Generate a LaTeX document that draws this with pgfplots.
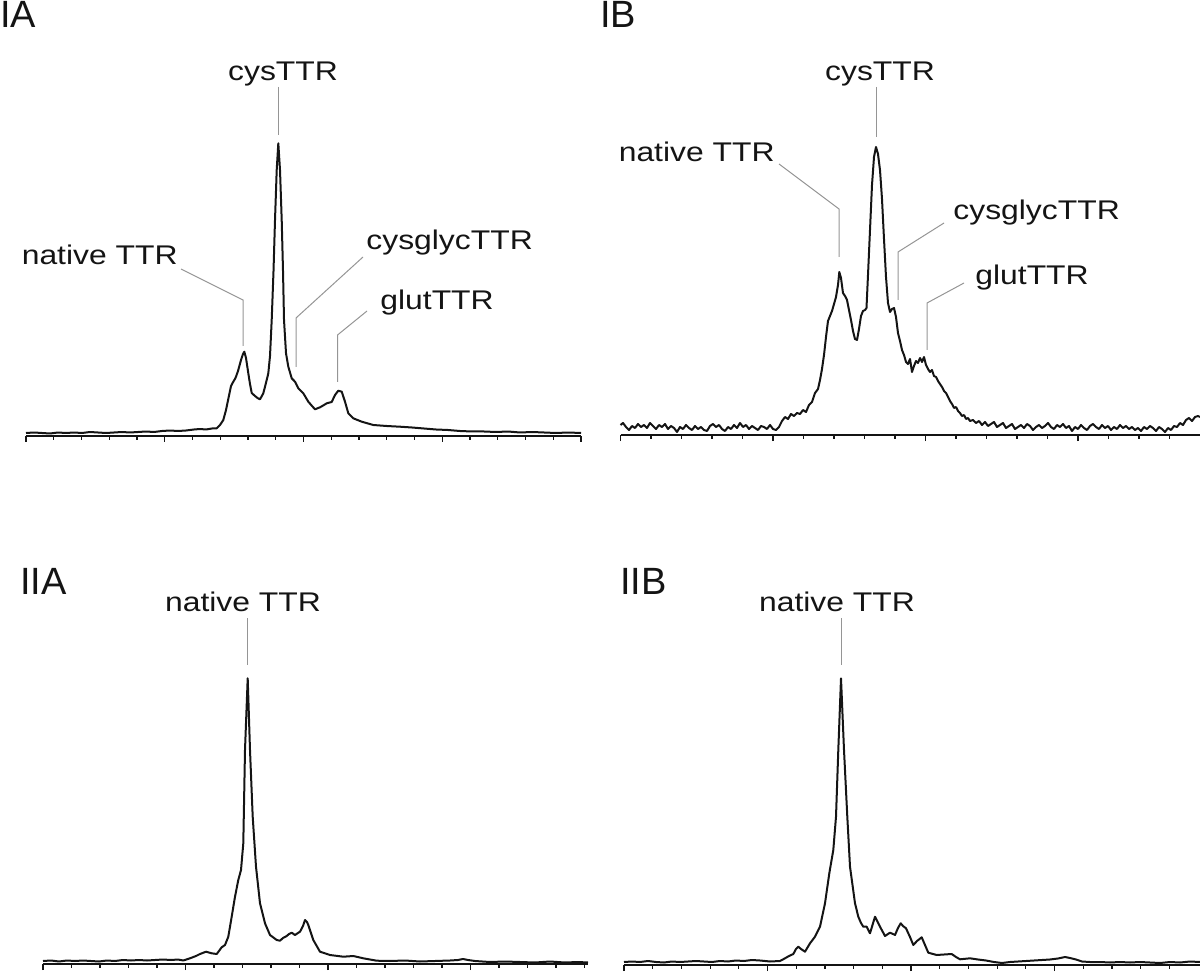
\documentclass[border=0pt]{standalone}
\usepackage{fontspec}
\setmainfont{Liberation Sans}[FakeStretch=1.18]
\newfontfamily\titlefont{Liberation Sans}
\usepackage{pgfplots}
\pgfplotsset{compat=1.18}
\definecolor{ink}{HTML}{141414}
\definecolor{leadgray}{HTML}{959595}
\pgfplotsset{
  panel/.style={
    scale only axis, anchor=south west, clip=false,
    axis x line*=bottom, axis y line=none,
    ymin=0,
    xticklabel=\empty,
    tick align=outside,
    major tick length=3pt, minor tick length=1.8pt,
    x axis line style={line width=0.9pt, draw=ink, -},
    every tick/.append style={line width=0.6pt, draw=ink},
  },
  curve/.style={ink, line width=1pt, line join=round, mark=none},
}
\tikzset{
  lbl/.style={font=\fontsize{13.5pt}{16pt}\selectfont, inner sep=0pt, text=ink},
  ttl/.style={font=\titlefont\fontsize{19pt}{22pt}\selectfont, inner sep=0pt, text=ink, anchor=base west},
  leader/.style={draw=leadgray, line width=0.5pt},
}
\begin{document}
\begin{tikzpicture}
\path[use as bounding box] (0,0) rectangle (600pt,485.5pt);

% ---------------- IA ----------------
\begin{axis}[panel, at={(13pt,267.5pt)}, width=277.5pt, height=218pt,
  xmin=26, xmax=581, ymax=436,
  xtick={26,164.75,303.5,442.25,581},
  minor xtick={53.75,81.5,109.25,137,192.5,220.25,248,275.75,331.25,359,386.75,414.5,470,497.75,525.5,553.25}]
\addplot[curve] table {
26 3
34 3.5
42 3
50 2.5
58 3.5
66 3
74 3.5
82 3
90 4
98 3.5
106 3
114 3.5
122 4
130 3.5
138 4
146 4.5
154 4
162 5
170 5.5
178 5
186 5.5
194 6.5
200 7
206 6.5
212 7.5
216.7 7.7
220 11
223.3 16
226 26
228.5 38
231 50
233.3 54.3
235.5 58
238 65
241 76
243 82
244.3 84.3
246 78
248.3 62.7
250 52
251.7 43
255 40
257.5 38
260 36.7
263.3 42.7
266.7 56
268.3 62.7
270 80
271.7 116
273.5 165
275 216
276.7 266
278.3 292.7
280 266
281.7 216
283 165
284 116
286 82.7
288.3 69.3
291.7 57.7
295 54.3
298.3 47.7
303.3 42.7
308.3 34.3
312 30
315 26.7
320 28.7
324 31
326.7 32.7
331.7 34
335 41
338.3 45.3
341.7 44.3
345 34.3
348.3 22.7
353.3 17.7
361.7 14.3
373.3 11
386.7 10
400 9.3
412 8.5
424 7.5
436 6.5
448 6
460 5
472 4.5
484 4.5
496 4
508 4.5
520 3.5
532 4
544 3.5
556 3
568 3.5
581 3
};
\node[ttl] at (axis cs:0,408.7) {IA};
\node[lbl, anchor=base] at (axis cs:283,355) {cysTTR};
\draw[leader] (axis cs:278,349) -- (axis cs:278,301);
\node[lbl, anchor=base east] at (axis cs:178,171) {native TTR};
\draw[leader] (axis cs:181,167) -- (axis cs:243,136) -- (axis cs:243,90);
\node[lbl, anchor=base west] at (axis cs:366,186) {cysglycTTR};
\draw[leader] (axis cs:363,179) -- (axis cs:296,118) -- (axis cs:296,69);
\node[lbl, anchor=base west] at (axis cs:380,126) {glutTTR};
\draw[leader] (axis cs:367,125) -- (axis cs:337.5,101) -- (axis cs:337.5,54);
\end{axis}

% ---------------- IB ----------------
\begin{axis}[panel, at={(310.25pt,268pt)}, width=289.75pt, height=217.5pt,
  xmin=620.5, xmax=1200, ymax=435,
  xtick={620.5,773,925.5,1078},
  minor xtick={651,681.5,712,742.5,803.5,834,864.5,895,956,986.5,1017,1047.5,1108.5,1139,1169.5}]
\addplot[curve] table {
620.5 10
623 12
626 8
629 5
632 9
635 7
638 11
641 8
644 10
647 7
650 12
653 9
656 6
659 10
662 8
665 11
668 6
671 9
674 7
677 3
680 8
683 6
686 10
689 7
692 5
695 9
698 6
701 8
704 5
707 4
710 9
713 11
716 8
719 10
722 6
725 4
728 8
731 6
734 10
737 7
740 12
743 8
746 10
749 6
752 9
755 7
758 5
761 9
764 8
767 6
770 10
773 6
776 5
779 8
782 14
785 18
788 16
791 21
794 19
797 22
800 21
803 25
806 23
809 30
812 33
815 42
818 46
820 55
822 66
824 80
826 98
828 114
830 119
832 124
834 131
836 138
838 150
839.3 163
841 157
843 142
845 139
847 135
849 125
851 115
853 104
855 96
857 95
859 106
861 119
863 124
865 125
866.5 127
868 160
870 205
872 250
874 278
876 288
878 281
880 265
882 236
884 196
886 158
888 132
890 123
892 126
894 127
896 118
898 102
900 94
902 85
904 80
906 73
908 71
910 76
912 63
914 69
916 74
918 72
920 77
922 73
924 78
926 70
928 66
930 63
932 65
934 59
936 58
938 54
940 51
942 48
944 44
946 42
948 38
950 34
952 31
954 27
956 28
958 24
960 22
962 19
964 20
966 16
968 17
970 14
973 15
976 12
979 14
982 10
985 13
988 9
991 11
994 13
997 8
1000 10
1003 12
1006 7
1009 9
1012 11
1015 6
1018 8
1021 10
1024 7
1027 11
1030 9
1033 5
1036 8
1039 10
1042 7
1045 9
1048 12
1051 8
1054 6
1057 10
1060 8
1063 11
1066 7
1069 9
1072 4
1075 8
1078 6
1081 10
1084 7
1087 5
1090 9
1093 11
1096 8
1099 6
1102 10
1105 7
1108 9
1111 5
1114 8
1117 6
1120 10
1123 7
1126 9
1129 6
1132 8
1135 5
1138 7
1141 4
1144 8
1147 6
1150 9
1153 7
1156 4
1159 8
1162 6
1165 3
1168 7
1171 5
1174 9
1177 8
1180 12
1183 10
1186 15
1189 17
1192 14
1195 18
1198 19
1200 18
};
\node[ttl] at (axis cs:600,407.7) {IB};
\node[lbl, anchor=base] at (axis cs:880,354) {cysTTR};
\draw[leader] (axis cs:876,348) -- (axis cs:876,298);
\node[lbl, anchor=base east] at (axis cs:775,273) {native TTR};
\draw[leader] (axis cs:779,271) -- (axis cs:839,226) -- (axis cs:839,178);
\node[lbl, anchor=base west] at (axis cs:953,215) {cysglycTTR};
\draw[leader] (axis cs:944,212) -- (axis cs:898,183) -- (axis cs:898,135);
\node[lbl, anchor=base west] at (axis cs:975,150) {glutTTR};
\draw[leader] (axis cs:964,152) -- (axis cs:927,132) -- (axis cs:927,85);
\end{axis}

% ---------------- IIA ----------------
\begin{axis}[panel, at={(21.5pt,3.5pt)}, width=272.5pt, height=200pt,
  xmin=43, xmax=588, ymax=400,
  xtick={43,185.5,328,470.5},
  minor xtick={71.5,100,128.5,157,214,242.5,271,299.5,356.5,385,413.5,442,499,527.5,556,584.5}]
\addplot[curve] table {
43 3
51 3.5
59 2.5
67 3.5
75 3
83 3.5
91 3
99 2.5
107 3.5
115 3
123 4
131 3.5
139 4
147 3.5
155 4
163 4.5
171 4
178 4.5
183.3 3.5
190 5.7
196 8
200 10
206 12.3
211.7 10.7
216.7 10
221.7 16.7
225 19
228.3 27.3
231.7 47.3
235 67.3
238.3 84
241 94
243.3 120.7
245 214
247.7 285.7
250 214
252.7 147.3
256 97.3
260 60.7
265 40.7
270 29
276.7 24
280 23.3
283 26
286.7 28
289 30
291.7 31.3
295 29
298 31
300 32.3
303 38
305 44
307 42
308.3 39
313.3 24
320 12.3
330 9
343.3 7.3
353.3 8
363.3 5.7
376.7 3.3
390 3
405 3.5
420 2.5
435 3
450 3.5
458 4
463 5
468 4
475 3
490 2
505 2.5
520 2
535 1.5
550 2.5
565 1.5
578 2
588 1.5
};
\node[ttl] at (axis cs:20,370) {IIA};
\node[lbl, anchor=base] at (axis cs:243,353) {native TTR};
\draw[leader] (axis cs:247.5,346) -- (axis cs:247.5,299);
\end{axis}

% ---------------- IIB ----------------
\begin{axis}[panel, at={(312pt,3pt)}, width=288pt, height=200pt,
  xmin=624, xmax=1200, ymax=400,
  xtick={624,767.5,911,1054.5},
  minor xtick={652.7,681.4,710.1,738.8,796.2,824.9,853.6,882.3,939.7,968.4,997.1,1025.8,1083.2,1111.9,1140.6,1169.3}]
\addplot[curve] table {
624 3
632 3.5
640 3
648 4
656 3
664 2.5
672 3.5
680 3
688 3.5
696 4
704 3.5
712 3
720 4
728 3.5
736 4.5
744 4
752 5
760 4.5
770 3.5
780 4
785 6.7
789 9
793.3 11
796 16
798.3 18.3
801 16
805 13.3
810 21.7
815 28.3
820 38.3
825 61.7
829.3 91.7
833.3 115
836 148.3
838.3 215
841 286.7
844 215
847.3 148.3
850 98.3
855 61.7
858.3 48.3
861 42
863.3 38.3
866.7 38.3
870 31.7
875 48.3
880 38.3
885 29
888 31
890 32.3
893 31
895 30
898 37
900.7 41.7
903 39
906 36.7
910 28
913.3 20
917 24
921.7 27.7
925 20
928.3 12.3
936.7 10
944 10.5
951.7 11
956 8
960 5.7
970 6.7
978 5.5
986 4.5
994 3
1002 2
1010 3
1018 3.5
1026 4
1034 4.5
1042 5
1050 5.5
1058 6.5
1065 8
1070 7
1076 5.5
1082 3.5
1090 3
1100 3
1110 2.5
1120 3
1130 2.5
1140 3
1150 2.5
1160 2
1170 3
1180 2.5
1190 3.5
1200 3
};
\node[ttl] at (axis cs:620,371) {IIB};
\node[lbl, anchor=base] at (axis cs:837,354) {native TTR};
\draw[leader] (axis cs:841,347) -- (axis cs:841,300);
\end{axis}
\end{tikzpicture}
\end{document}
